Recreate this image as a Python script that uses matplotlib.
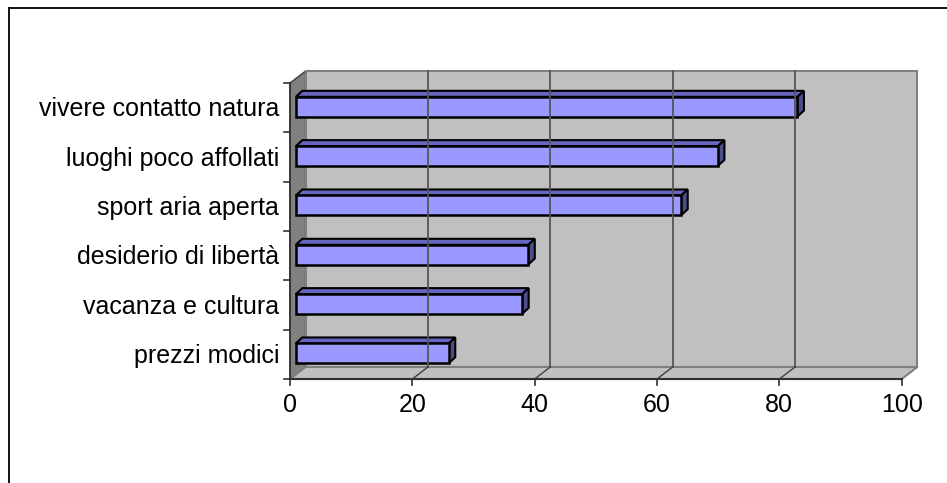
import matplotlib.pyplot as plt
from matplotlib.patches import Polygon
from matplotlib.lines import Line2D

plt.rcParams['font.family'] = ['Liberation Sans', 'DejaVu Sans']

categorie = ["prezzi modici", "vacanza e cultura", "desiderio di libertà",
             "sport aria aperta", "luoghi poco affollati", "vivere contatto natura"]
valori = [25, 37, 38, 63, 69, 82]
tacche_x = [0, 20, 40, 60, 80, 100]

W, H = 947, 483
fig = plt.figure(figsize=(W / 100, H / 100), dpi=100)
ax = fig.add_axes([0, 0, 1, 1])
ax.axis("off")

# scala: valori in x, categorie in y (pixel per unita)
px_x = 6.117
px_y = 49.33
x0_px, y0_px = 290, 379
ax.set_xlim(-x0_px / px_x, (W - x0_px) / px_x)
ax.set_ylim((y0_px - H) / px_y, y0_px / px_y)

# profondita obliqua del grafico 3D
D = 15.6 / px_x
E = 12 / px_y
n = len(categorie)
vmax = 100

parete = "#C0C0C0"
bordo = "#808080"

# parete laterale sinistra
ax.add_patch(Polygon([(0, 0), (0, n), (D, n + E), (D, E)], closed=True,
                     facecolor="#808080", edgecolor="#404040", lw=1))
# parete di fondo
ax.add_patch(Polygon([(D, E), (vmax + D, E), (vmax + D, n + E), (D, n + E)], closed=True,
                     facecolor=parete, edgecolor=bordo, lw=1.5))
# pavimento
ax.add_patch(Polygon([(0, 0), (vmax, 0), (vmax + D, E), (D, E)], closed=True,
                     facecolor=parete, edgecolor=bordo, lw=1.5))
ax.plot([0, vmax], [0, 0], color="#303030", lw=1.5)
ax.plot([0, 0], [0, n], color="#303030", lw=1.2)

# griglia
for v in tacche_x[1:-1]:
    ax.plot([v + D, v + D], [E, n + E], color="#555555", lw=1.3)
    ax.plot([v, v + D], [0, E], color="#404040", lw=1)

# tacche
for v in tacche_x:
    ax.plot([v, v], [0, -6 / px_y], color="#303030", lw=1.2)
    ax.text(v, -33 / px_y, str(v), ha="center", va="baseline", fontsize=18)
for i in range(n + 1):
    ax.plot([-6 / px_x, 0], [i, i], color="#303030", lw=1.2)

# barre 3D
h = 0.4
f0 = 0.375
bx = f0 * D
by = f0 * E - 0.071
ddx = 6.5 / px_x
ddy = 6 / px_y
fronte = "#9999FF"
sopra = "#6666C0"
lato = "#4D4D88"
for i, (nome, v) in enumerate(zip(categorie, valori)):
    y1 = i + 0.5 - h / 2 + by
    y2 = y1 + h
    xa = bx
    xb = bx + v
    ax.add_patch(Polygon([(xa, y2), (xb, y2), (xb + ddx, y2 + ddy), (xa + ddx, y2 + ddy)],
                         closed=True, facecolor=sopra, edgecolor="black", lw=1.5))
    ax.add_patch(Polygon([(xb, y1), (xb + ddx, y1 + ddy), (xb + ddx, y2 + ddy), (xb, y2)],
                         closed=True, facecolor=lato, edgecolor="black", lw=1.5))
    ax.add_patch(Polygon([(xa, y1), (xb, y1), (xb, y2), (xa, y2)],
                         closed=True, facecolor=fronte, edgecolor="black", lw=1.8))
    ax.text(-11 / px_x, i + 0.5 - 8.7 / px_y, nome, ha="right", va="baseline",
            fontsize=18)

# cornice
fig.add_artist(Line2D([9 / W, 9 / W], [0, 1 - 8 / H], color="black", lw=1.3))
fig.add_artist(Line2D([9 / W, 1], [1 - 8 / H, 1 - 8 / H], color="black", lw=1.3))

fig.savefig("out.png", dpi=100)
